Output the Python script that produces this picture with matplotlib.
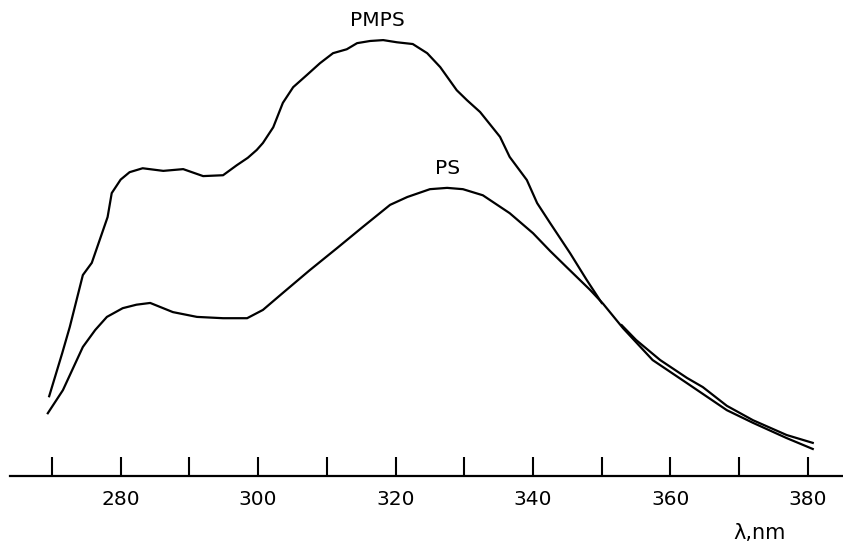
import numpy as np
import matplotlib
matplotlib.use("Agg")
import matplotlib.pyplot as plt

# wavelength (nm) and intensity (arb. units)
pmps_nm = [269.6, 271.5, 272.6, 274.5, 275.8, 278.1, 278.7, 280.0, 281.3, 283.2,
           286.2, 289.1, 292.0, 294.9, 296.9, 298.5, 299.8, 300.7, 302.2, 303.6,
           305.1, 307.1, 309.0, 310.9, 312.9, 314.4, 316.3, 318.2, 320.2, 322.5,
           324.6, 326.5, 328.9, 330.4, 332.3, 335.2, 336.6, 339.1, 340.6, 342.5,
           345.4, 347.8, 350.0, np.nan,
           352.9, 355.0, 358.5, 362.4, 364.7, 368.2, 372.0, 376.9, 380.7]
pmps_int = [18.3, 28.2, 34.2, 46.1, 48.9, 59.4, 64.9, 68.0, 69.7, 70.6,
            70.0, 70.4, 68.8, 69.0, 71.3, 73.0, 74.8, 76.4, 80.0, 85.6,
            89.2, 92.0, 94.7, 97.0, 97.9, 99.3, 99.8, 100.0, 99.5, 99.1,
            97.0, 93.8, 88.5, 86.2, 83.5, 77.8, 73.2, 67.9, 62.6, 58.0,
            51.1, 45.0, 39.7, np.nan,
            34.6, 31.2, 26.6, 22.5, 20.4, 16.1, 12.8, 9.4, 7.6]

ps_nm = [269.4, 271.6, 274.5, 276.3, 278.0, 280.3, 282.3, 284.3, 287.6, 291.1,
         294.9, 298.4, 300.7, 303.6, 307.5, 311.5, 315.2, 319.2, 321.7, 325.0,
         327.5, 329.8, 332.7, 336.6, 340.0, 342.5, 344.9, 348.3, 350.2, 353.1,
         357.4, 362.4, 368.2, 372.0, 376.9, 380.7]
ps_int = [14.4, 19.7, 29.6, 33.5, 36.5, 38.5, 39.3, 39.7, 37.6, 36.5,
          36.2, 36.2, 38.1, 42.0, 47.2, 52.3, 57.1, 62.2, 64.0, 65.8,
          66.1, 65.8, 64.4, 60.3, 55.7, 51.6, 47.9, 42.7, 39.5, 33.9,
          26.6, 21.3, 15.1, 12.2, 8.7, 6.2]

fig = plt.figure(figsize=(8.43, 5.45), dpi=100)
ax = fig.add_axes([10 / 843, 69 / 545, 833 / 843, 476 / 545])

ax.plot(pmps_nm, pmps_int, color="black", lw=1.6, solid_joinstyle="round")
ax.plot(ps_nm, ps_int, color="black", lw=1.6, solid_joinstyle="round")

ax.set_xlim(263.9, 385.1)
ax.set_ylim(0, 109.2)

for side in ("left", "right", "top"):
    ax.spines[side].set_visible(False)
ax.spines["bottom"].set_linewidth(1.6)
ax.set_yticks([])

ax.set_xticks(np.arange(280, 381, 20))
ax.set_xticks(np.arange(270, 381, 10), minor=True)
ax.tick_params(axis="x", which="both", direction="in", length=14, width=1.5,
               pad=10, labelsize=14.5)

ax.text(317.3, 104.4, "PMPS", ha="center", va="center", fontsize=14.5)
ax.text(327.5, 70.6, "PS", ha="center", va="center", fontsize=14.5)
ax.text(373.0, -13.1, "λ,nm", ha="center", va="center", fontsize=15,
        clip_on=False)

fig.savefig("out.png", dpi=100)
